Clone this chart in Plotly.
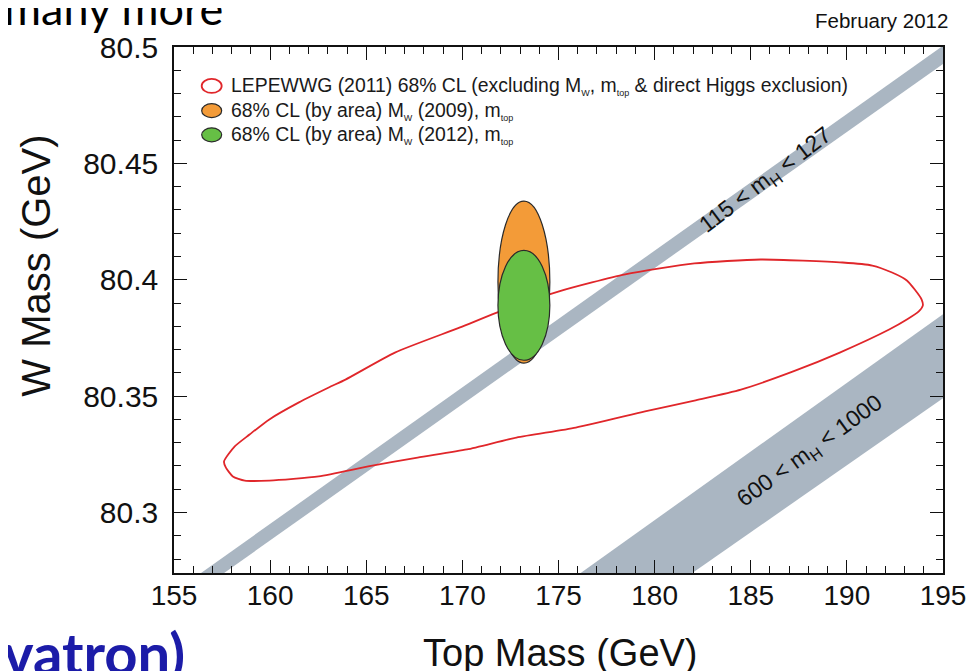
import plotly.graph_objects as go

# ---------------- data ----------------
# LEPEWWG (2011) 68% CL contour (top mass, W mass)
lep_mt = [157.60, 158.16, 158.93, 159.96, 161.50, 163.05, 163.92, 166.49, 169.88, 171.79,
          175.03, 178.47, 182.07, 185.51, 189.78, 191.32, 192.35, 193.12, 193.53, 193.89,
          193.95, 193.74, 193.12, 192.20, 189.63, 187.21, 184.49, 182.07, 179.50, 175.90,
          172.81, 170.24, 167.67, 165.10, 162.53, 159.96, 158.68, 158.06, 157.70, 157.60]
lep_mw = [80.3219, 80.3284, 80.3335, 80.3400, 80.3473, 80.3537, 80.3571, 80.3687, 80.3795, 80.3859,
          80.3950, 80.4023, 80.4070, 80.4087, 80.4074, 80.4061, 80.4031, 80.3997, 80.3958, 80.3915,
          80.3889, 80.3864, 80.3829, 80.3786, 80.3687, 80.3606, 80.3528, 80.3481, 80.3434, 80.3365,
          80.3322, 80.3271, 80.3236, 80.3198, 80.3155, 80.3137, 80.3137, 80.3155, 80.3193, 80.3219]

# Higgs-mass bands (corner points of each band)
band_low_mt = [150.0, 200.0, 200.0, 150.0]
band_low_mw = [80.2364, 80.5299, 80.5220, 80.2295]      # 115 < mH < 127
band_high_mt = [170.0, 200.0, 200.0, 170.0]
band_high_mw = [80.2377, 80.4147, 80.3779, 80.2051]     # 600 < mH < 1000

# Direct measurements: 68% CL (by area) ellipses  [centre mt, centre mw, half-width mt, half-height mw]
ell_2009 = [173.2, 80.399, 1.35, 0.0348]
ell_2012 = [173.2, 80.389, 1.35, 0.0236]

x_ticks = [155, 160, 165, 170, 175, 180, 185, 190, 195]
x_labels = ["155", "160", "165", "170", "175", "180", "185", "190", "195"]
y_ticks = [80.3, 80.35, 80.4, 80.45, 80.5]
y_labels = ["80.3", "80.35", "80.4", "80.45", "80.5"]

x_range = [155, 195]
y_range = [80.274, 80.5]

BAND = "#aab6c2"
RED = "#e0262a"
ORANGE = "#f39b38"
GREEN = "#66bf45"
FONT = "Liberation Sans, Arial, sans-serif"

fig = go.Figure()

fig.add_trace(go.Scatter(x=band_low_mt, y=band_low_mw, fill="toself", fillcolor=BAND,
                         mode="lines", line=dict(width=0), hoverinfo="skip", showlegend=False))
fig.add_trace(go.Scatter(x=band_high_mt, y=band_high_mw, fill="toself", fillcolor=BAND,
                         mode="lines", line=dict(width=0), hoverinfo="skip", showlegend=False))
fig.add_trace(go.Scatter(x=lep_mt, y=lep_mw, mode="lines",
                         line=dict(color=RED, width=1.8, shape="spline", smoothing=0.6),
                         hoverinfo="skip", showlegend=False))

shapes = []
for ell, col in [(ell_2009, ORANGE), (ell_2012, GREEN)]:
    cx, cy, ax, ay = ell
    shapes.append(dict(type="circle", xref="x", yref="y",
                       x0=cx - ax, x1=cx + ax, y0=cy - ay, y1=cy + ay,
                       fillcolor=col, line=dict(color="#2a2a2a", width=1.2), layer="above"))

# legend markers (paper-anchored, pixel-sized)
leg_y = [0.926, 0.879, 0.833]
leg_fill = ["rgba(0,0,0,0)", ORANGE, GREEN]
leg_line = [RED, "#2a2a2a", "#2a2a2a"]
for yy, fc, lc in zip(leg_y, leg_fill, leg_line):
    shapes.append(dict(type="circle", xref="paper", yref="paper",
                       xsizemode="pixel", ysizemode="pixel", xanchor=0.049, yanchor=yy,
                       x0=-10, x1=10, y0=-7, y1=7, fillcolor=fc,
                       line=dict(color=lc, width=1.8 if lc == RED else 1.2)))

sub = lambda s: "<sub><span style='font-size:9px'>" + s + "</span></sub>"
leg_text = [
    "LEPEWWG (2011) 68% CL (excluding M" + sub("W") + ", m" + sub("top") + " &amp; direct Higgs exclusion)",
    "68% CL (by area) M" + sub("W") + " (2009), m" + sub("top"),
    "68% CL (by area) M" + sub("W") + " (2012), m" + sub("top"),
]

annotations = []
for yy, t in zip(leg_y, leg_text):
    annotations.append(dict(text=t, xref="paper", yref="paper", x=0.072, y=yy,
                            xanchor="left", yanchor="middle", showarrow=False,
                            font=dict(family=FONT, size=19.4, color="#1a1a1a")))

annotations += [
    dict(text="115 &lt; m<sub>H</sub> &lt; 127", xref="x", yref="y", x=185.8, y=80.4425,
         textangle=-37, showarrow=False, font=dict(family=FONT, size=23, color="#111")),
    dict(text="600 &lt; m<sub>H</sub> &lt; 1000", xref="x", yref="y", x=188.1, y=80.326,
         textangle=-36, showarrow=False, font=dict(family=FONT, size=23, color="#111")),
    dict(text="February 2012", xref="paper", yref="paper", x=1.009, y=1.051,
         xanchor="right", yanchor="middle", showarrow=False,
         font=dict(family=FONT, size=20.5, color="#111")),
    dict(text="Top Mass (GeV)", xref="paper", yref="paper", x=0.503, y=-0.152,
         xanchor="center", yanchor="middle", showarrow=False,
         font=dict(family=FONT, size=38, color="#111")),
    dict(text="W Mass (GeV)", xref="paper", yref="paper", x=-0.179, y=0.585,
         xanchor="center", yanchor="middle", textangle=-90, showarrow=False,
         font=dict(family=FONT, size=40, color="#111")),
    dict(text="many more", xref="paper", yref="paper", x=-0.224, y=1.075,
         xanchor="left", yanchor="middle", showarrow=False,
         font=dict(family="Lato, sans-serif", size=45, color="#000")),
    dict(text="<b>vatron)</b>", xref="paper", yref="paper", x=0.0167, y=-0.152,
         xanchor="right", yanchor="middle", showarrow=False,
         font=dict(family="Lato, sans-serif", size=58, color="#1c1ca8")),
]

axis_common = dict(showline=True, linecolor="#111", linewidth=1.5, mirror="ticks",
                   ticks="inside", ticklen=13, tickwidth=1.3, tickcolor="#111",
                   showgrid=False, zeroline=False, fixedrange=True)

# the page body has an 8 px margin: the figure is shrunk by that amount so the
# plotting area lands at the same place as in the reference
fig.update_layout(
    width=970, height=663,
    margin=dict(l=166, r=27, t=39, b=98),
    paper_bgcolor="white", plot_bgcolor="white",
    showlegend=False,
    shapes=shapes, annotations=annotations,
    xaxis=dict(range=x_range, tickvals=x_ticks, ticktext=x_labels,
               tickfont=dict(family=FONT, size=28, color="#111"),
               minor=dict(ticks="inside", ticklen=7, tickwidth=1.1, tickcolor="#111", dtick=1, showgrid=False),
               ticklabelstandoff=-3, **axis_common),
    yaxis=dict(range=y_range, tickvals=y_ticks, ticktext=y_labels,
               tickfont=dict(family=FONT, size=30, color="#111"),
               minor=dict(ticks="inside", ticklen=7, tickwidth=1.1, tickcolor="#111", dtick=0.01,
                          tick0=80.3, showgrid=False),
               ticklabelstandoff=8, **axis_common),
)

fig.write_html("out.html")
